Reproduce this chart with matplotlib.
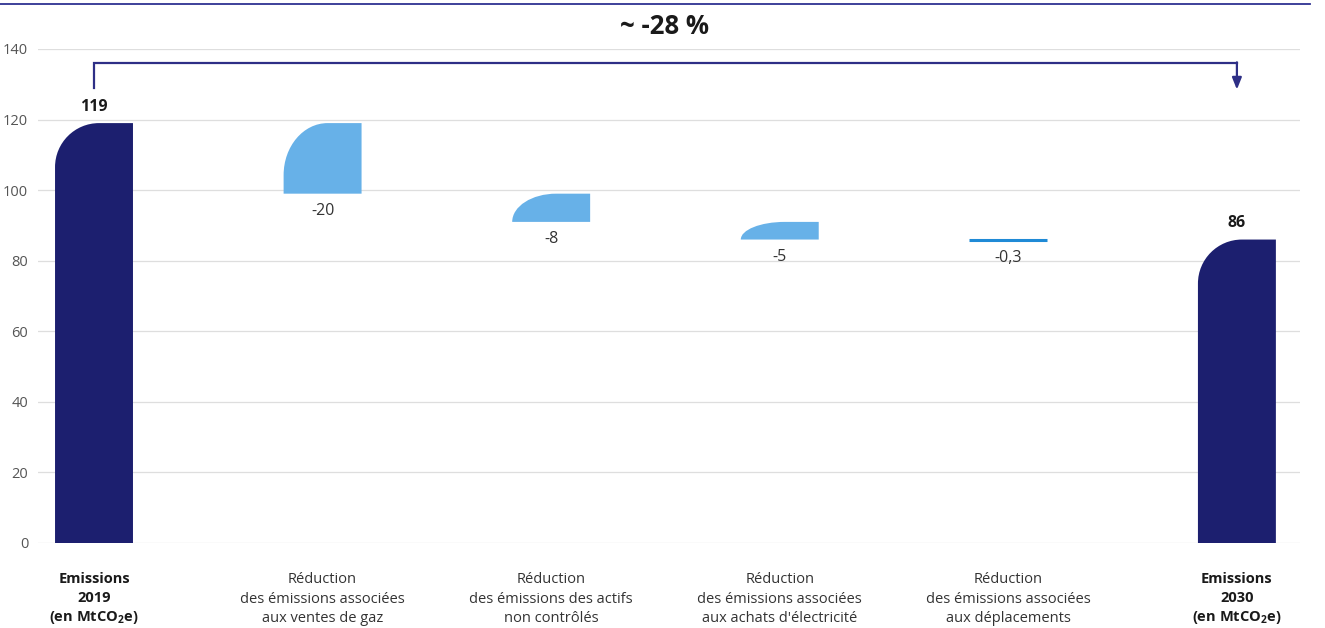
import matplotlib
matplotlib.use("Agg")
import matplotlib.pyplot as plt
from matplotlib.path import Path
from matplotlib.patches import PathPatch
from matplotlib.lines import Line2D
import numpy as np

plt.rcParams['font.family'] = ['Open Sans', 'DejaVu Sans']
plt.rcParams['mathtext.fontset'] = 'custom'
plt.rcParams['mathtext.rm'] = 'Open Sans'
plt.rcParams['mathtext.bf'] = 'Open Sans:bold'

# ---- data ----
categories = [
    "Emissions\n2019\n(en MtCO$_\\mathbf{2}$e)",
    "Réduction\ndes émissions associées\naux ventes de gaz",
    "Réduction\ndes émissions des actifs\nnon contrôlés",
    "Réduction\ndes émissions associées\naux achats d'électricité",
    "Réduction\ndes émissions associées\naux déplacements",
    "Emissions\n2030\n(en MtCO$_\\mathbf{2}$e)",
]
start_value = 119
reductions = [-20, -8, -5, -0.3]
end_value = 86
value_labels = ["119", "-20", "-8", "-5", "-0,3", "86"]
yticks = [0, 20, 40, 60, 80, 100, 120, 140]
change_label = "~ -28 %"

NAVY = "#1c1f6f"
LIGHT = "#67b1e8"
LINE_BLUE = "#1f8ad6"
ARROW = "#2e2f86"

W, H = 1325, 628
fig = plt.figure(figsize=(W / 100, H / 100), dpi=100)
ax = fig.add_axes([38 / W, (628 - 543) / H, 1262 / W, 494 / H])
ax.set_ylim(0, 140)
ax.set_xlim(-0.245, 5.276)
for s in ax.spines.values():
    s.set_visible(False)
ax.set_yticks(yticks)
ax.set_yticklabels([str(v) for v in yticks], fontsize=10.5, color="#555555")
ax.tick_params(axis='y', length=0, pad=7)
ax.set_xticks([])
ax.yaxis.grid(True, color="#dedede", lw=0.9)
ax.set_axisbelow(True)

# compute waterfall segments
n = len(categories)
bottoms, tops = [0], [start_value]
level = start_value
for r in reductions:
    bottoms.append(level + r); tops.append(level)
    level += r
bottoms.append(0); tops.append(end_value)

bw = 0.341
p0 = ax.transData.transform((0, 0))
p1 = ax.transData.transform((1, 1))
px_x = p1[0] - p0[0]
px_y = p1[1] - p0[1]
R_PX = 44
K = 0.5523


def rounded_bar(x0, x1, y0, y1, color, ry_max=R_PX):
    h_px = (y1 - y0) * px_y
    rx = R_PX / px_x
    ry = min(h_px, ry_max) / px_y
    verts = [(x0, y0), (x1, y0), (x1, y1), (x0 + rx, y1),
             (x0 + rx * (1 - K), y1), (x0, y1 - ry * (1 - K)), (x0, y1 - ry),
             (x0, y0), (x0, y0)]
    codes = [Path.MOVETO, Path.LINETO, Path.LINETO, Path.LINETO,
             Path.CURVE4, Path.CURVE4, Path.CURVE4,
             Path.LINETO, Path.CLOSEPOLY]
    ax.add_patch(PathPatch(Path(verts, codes), facecolor=color, lw=0, zorder=3))


for i in range(n):
    x0, x1 = i - bw / 2, i + bw / 2
    y0, y1 = bottoms[i], tops[i]
    if i in (0, n - 1):
        rounded_bar(x0, x1, y0, y1, NAVY)
        ax.annotate(value_labels[i], (i, y1), xytext=(0, 6), textcoords="offset points",
                    ha="center", va="bottom", fontsize=11.5, fontweight="bold", color="#1a1a1a")
    else:
        if (y1 - y0) * px_y < 3:
            ax.plot([x0, x1], [(y0 + y1) / 2] * 2, color=LINE_BLUE, lw=2.2,
                    solid_capstyle="butt", zorder=3)
        else:
            rounded_bar(x0, x1, y0, y1, LIGHT, ry_max=52)
        ax.annotate(value_labels[i], (i, y0), xytext=(0, -6.5), textcoords="offset points",
                    ha="center", va="top", fontsize=11.5, color="#333333")

# category labels
trans = ax.get_xaxis_transform()
for i, lab in enumerate(categories):
    bold = i in (0, n - 1)
    ax.annotate(lab, (i, 0), xycoords=trans, xytext=(0, -21), textcoords="offset points",
                ha="center", va="top", fontsize=10.5, linespacing=1.4,
                fontweight="bold" if bold else "normal",
                color="#1a1a1a" if bold else "#333333")

# overall change arrow
y_arrow = 136
ax.plot([0, 0, n - 1], [start_value + 10, y_arrow, y_arrow], color=ARROW, lw=1.6,
        clip_on=False, solid_joinstyle="miter", zorder=4)
ax.annotate("", xy=(n - 1, start_value + 9.5), xytext=(n - 1, y_arrow + 0.22),
            arrowprops=dict(arrowstyle="-|>,head_length=0.7,head_width=0.28",
                            color=ARROW, lw=1.6, shrinkA=0, shrinkB=0),
            annotation_clip=False)

fig.text(665 / W, 1 - 26 / H, change_label, ha="center", va="center",
         fontsize=18.5, fontweight="bold", color="#1a1a1a")

# top rule
fig.add_artist(Line2D([0, 1310 / W], [1 - 4 / H, 1 - 4 / H], color="#2e3192", lw=1.3))

fig.savefig("out.png", dpi=100, facecolor="white")
